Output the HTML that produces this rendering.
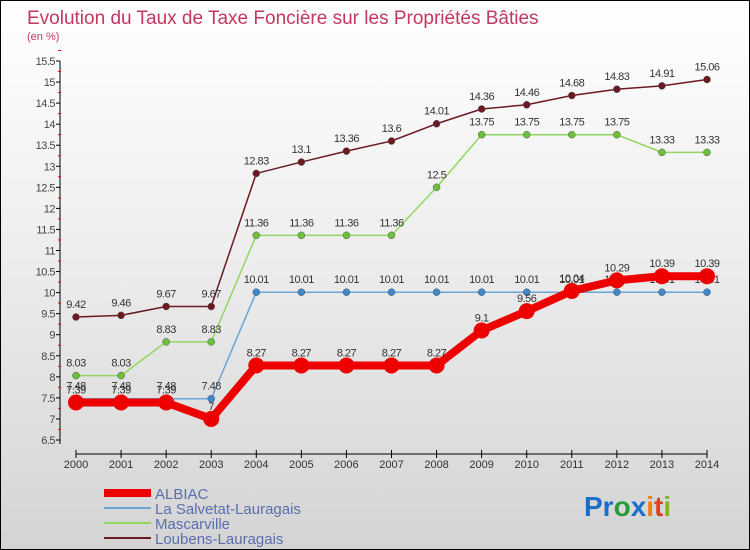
<!DOCTYPE html>
<html><head><meta charset="utf-8">
<style>
body{margin:0;}
#wrap{position:relative;width:748px;height:548px;border:1px solid #000;background:linear-gradient(#ffffff,#f0f0f0 40%,#d4d4d4);overflow:hidden;font-family:"Liberation Sans",sans-serif;}
</style></head><body>
<div id="wrap">
<svg id="svg" width="748" height="548" xmlns="http://www.w3.org/2000/svg">
<text x="26" y="23" font-size="19" fill="#c3385f">Evolution du Taux de Taxe Foncière sur les Propriétés Bâties</text>
<text x="26" y="39" font-size="11" fill="#c3385f">(en %)</text>
<g id="axes"></g><g id="series"></g><g id="legend"></g>
<text x="583" y="515" font-size="28" font-weight="bold"><tspan fill="#1a6fc9">Pr</tspan><tspan fill="#2b9a3a">o</tspan><tspan fill="#1a6fc9">x</tspan><tspan fill="#f07f10">i</tspan><tspan fill="#e04020">t</tspan><tspan fill="#88b020">i</tspan></text>
</svg>
</div>
<script>
const years=[2000,2001,2002,2003,2004,2005,2006,2007,2008,2009,2010,2011,2012,2013,2014];
const yTicks=[6.5,7,7.5,8,8.5,9,9.5,10,10.5,11,11.5,12,12.5,13,13.5,14,14.5,15,15.5];
const albiac=[7.39,7.39,7.39,7.00,8.27,8.27,8.27,8.27,8.27,9.1,9.56,10.04,10.29,10.39,10.39];
const salvetat=[7.48,7.48,7.48,7.48,10.01,10.01,10.01,10.01,10.01,10.01,10.01,10.01,10.01,10.01,10.01];
const mascarville=[8.03,8.03,8.83,8.83,11.36,11.36,11.36,11.36,12.5,13.75,13.75,13.75,13.75,13.33,13.33];
const loubens=[9.42,9.46,9.67,9.67,12.83,13.1,13.36,13.6,14.01,14.36,14.46,14.68,14.83,14.91,15.06];
const seriesNames=["ALBIAC","La Salvetat-Lauragais","Mascarville","Loubens-Lauragais"];
const NS="http://www.w3.org/2000/svg";
const X=i=>75+i*(706-75)/(years.length-1);
const Y=v=>439-(v-6.5)*(439-60)/9;
function mk(t,a,p){const e=document.createElementNS(NS,t);for(const k in a)e.setAttribute(k,a[k]);p.appendChild(e);return e;}
const ax=document.getElementById('axes');
let yl=mk('line',{x1:59,y1:Y(15.5),x2:59,y2:Y(6.5)+4,stroke:'#000'},ax);


yTicks.forEach(v=>{
  mk('line',{x1:55,y1:Y(v),x2:59,y2:Y(v),stroke:'#000'},ax);
  mk('line',{x1:57,y1:Y(v+0.25),x2:60,y2:Y(v+0.25),stroke:'#e00'},ax);
  const t=mk('text',{x:54,y:Y(v)+4,'font-size':11,fill:'#444','text-anchor':'end','letter-spacing':'-0.5'},ax);
  t.textContent=String(v);
  
  
});
let xl=mk('line',{x1:X(0),y1:453,x2:X(14),y2:453,stroke:'#000'},ax);


years.forEach((y,i)=>{
  mk('line',{x1:X(i),y1:449,x2:X(i),y2:457,stroke:'#000'},ax);
  const t=mk('text',{x:X(i),y:467,'font-size':11,fill:'#333','text-anchor':'middle'},ax);
  t.textContent=y;
  
  
});
const sg=document.getElementById('series');
const defs=[[loubens,'#6b1a22','#6b1a22',1.5,3.5,'loubens'],[mascarville,'#8fd860','#6cc03a',1.5,3.5,'mascarville'],[salvetat,'#6aa5d6','#3d88c8',1.5,3.5,'salvetat'],[albiac,'#ee0000','#ee0000',8,8,'albiac']];
defs.forEach(([d,c,fc,w,r,n])=>{
  const g=mk('g',{},sg);
  
  
  mk('polyline',{points:d.map((v,i)=>X(i)+','+Y(v)).join(' '),fill:'none',stroke:c,'stroke-width':w,'stroke-linejoin':'round'},g);
  d.forEach((v,i)=>{
    const p=mk('circle',{cx:X(i),cy:Y(v),r:r,fill:fc,stroke:n==='albiac'?'none':'#555','stroke-width':0.5},g);
    
    
    const t=mk('text',{x:X(i),y:Y(v)-9,'font-size':11,fill:'#333','text-anchor':'middle','letter-spacing':'-0.5'},g);
    t.textContent=String(v);
    
    
  });
});
const lg=document.getElementById('legend');
const lc=['#ee0000','#6aa5d6','#8fd860','#6b1a22'],lw=[8,2,2,2];
seriesNames.forEach((s,i)=>{
  const y=492+i*15;
  const g=mk('g',{},lg);
  
  
  mk('line',{x1:103,y1:y,x2:150,y2:y,stroke:lc[i],'stroke-width':lw[i]},g);
  const t=mk('text',{x:154,y:y+6,'font-size':15,fill:'#5a6eb0'},g);
  t.textContent=s;
});
</script>
</body></html>
